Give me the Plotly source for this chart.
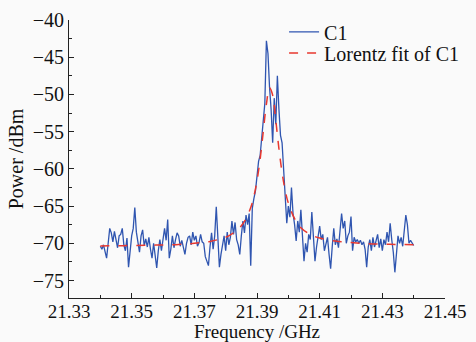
import plotly.graph_objects as go

# Measured spectrum C1, uniformly sampled from 21.340 GHz in 0.0005 GHz steps
c1_start = 21.340
c1_step = 0.0005
c1_power = [
    -70.4, -70.8, -70.2, -71.2, -72.0, -70.0, -68.0, -68.6, -69.8, -68.4,
    -69.5, -70.6, -69.0, -68.8, -68.0, -70.2, -71.0, -69.3, -73.2, -70.5,
    -69.0, -68.0, -65.2, -68.5, -70.0, -71.2, -69.0, -68.2, -70.3, -69.4,
    -70.5, -69.2, -70.8, -72.0, -70.0, -71.6, -73.3, -71.0, -69.5, -71.0,
    -69.4, -68.0, -69.6, -66.8, -72.0, -70.8, -69.0, -70.6, -69.5, -68.6,
    -69.0, -70.4, -69.6, -70.5, -71.5, -70.0, -69.2, -69.0, -70.2, -68.5,
    -69.6, -69.0, -70.4, -69.9, -68.8, -69.8, -70.0, -71.8, -72.4, -73.0,
    -70.5, -68.6, -70.8, -69.0, -65.1, -69.5, -73.2, -71.5, -70.0, -69.0,
    -71.0, -68.5, -70.2, -69.2, -67.0, -68.8, -67.2, -69.5, -70.2, -71.5,
    -69.0, -67.0, -68.6, -66.2, -67.5, -66.0, -73.0, -65.3, -64.0, -63.0,
    -61.0, -59.0, -58.2, -56.0, -53.4, -51.2, -42.8, -44.5, -49.0, -52.0,
    -56.5, -50.5, -54.0, -47.5, -52.0, -55.5, -56.5, -60.5, -64.8, -67.3,
    -65.0, -66.5, -62.5, -66.0, -67.5, -69.7, -67.0, -68.5, -65.5, -69.0,
    -72.4, -70.0, -71.2, -68.8, -69.5, -65.8, -69.0, -72.4, -70.5, -69.0,
    -67.7, -69.5, -68.8, -71.0, -70.0, -69.2, -71.5, -73.4, -70.5, -68.0,
    -70.2, -69.4, -70.6, -68.5, -66.0, -68.0, -67.0, -70.0, -69.0, -68.5,
    -66.4, -71.0, -69.2, -69.8, -69.5, -70.0, -69.6, -70.2, -69.8, -70.8,
    -73.2, -70.5, -69.5, -71.0, -69.2, -70.5, -69.8, -68.8, -70.6, -69.4,
    -71.0, -69.5, -70.2, -68.5, -69.8, -67.3, -69.5, -71.2, -73.9, -71.0,
    -69.0, -70.0, -69.2, -70.4, -68.5, -66.2, -67.5, -70.0, -69.6, -70.0,
    -70.3,
]

# Lorentz fit of C1
fit_freq = [
    21.340, 21.345, 21.350, 21.355, 21.360, 21.365, 21.370, 21.375, 21.378,
    21.381, 21.384, 21.386, 21.388, 21.389, 21.390, 21.391, 21.392, 21.393,
    21.394, 21.395, 21.396, 21.397, 21.398, 21.399, 21.400, 21.402, 21.404,
    21.407, 21.410, 21.415, 21.420, 21.425, 21.430, 21.435, 21.440,
]
fit_power = [
    -70.35, -70.33, -70.30, -70.27, -70.22, -70.15, -70.00, -69.75, -69.45,
    -69.00, -68.10, -67.05, -65.20, -63.70, -61.60, -58.70, -55.00, -51.30,
    -49.10, -50.10, -53.50, -57.30, -60.50, -62.90, -64.60, -66.70, -67.90,
    -68.80, -69.30, -69.70, -69.90, -70.05, -70.12, -70.16, -70.20,
]

x_tickvals = [21.33, 21.35, 21.37, 21.39, 21.41, 21.43, 21.45]
x_ticktext = ["21.33", "21.35", "21.37", "21.39", "21.41", "21.43", "21.45"]
y_tickvals = [-75, -70, -65, -60, -55, -50, -45, -40]
y_ticktext = ["\u221275", "\u221270", "\u221265", "\u221260", "\u221255", "\u221250", "\u221245", "\u221240"]

FONT = "Liberation Serif"
TXT = "#111111"

fig = go.Figure()
fig.add_trace(go.Scatter(
    x0=c1_start, dx=c1_step, y=c1_power, mode="lines", name="C1",
    line=dict(color="#2f55b0", width=1.3), legend="legend",
))
fig.add_trace(go.Scatter(
    x=fit_freq, y=fit_power, mode="lines", name="Lorentz fit of C1",
    line=dict(color="#e8382f", width=1.5, dash="dash", shape="spline"),
    legend="legend2",
))

leg_common = dict(
    xanchor="left", yanchor="middle",
    bgcolor="rgba(0,0,0,0)", borderwidth=0,
    font=dict(family=FONT, size=20, color=TXT),
    itemwidth=30,
)

fig.update_layout(
    width=476, height=342,
    margin=dict(l=69, r=28, t=16, b=44),
    paper_bgcolor="#fafafa", plot_bgcolor="#fafafa",
    font=dict(family=FONT, size=18, color=TXT),
    showlegend=True,
    legend=dict(x=0.572, y=0.957, **leg_common),
    legend2=dict(x=0.572, y=0.881, **leg_common),
)
fig.update_xaxes(
    range=[21.33, 21.45], showgrid=False, zeroline=False, automargin=False,
    showline=True, linecolor="#222222", linewidth=1,
    tickmode="array", tickvals=x_tickvals, ticktext=x_ticktext,
    ticks="inside", ticklen=5, tickcolor="#222222",
    ticklabelstandoff=-4,
    minor=dict(tickmode="array", tickvals=[21.34, 21.36, 21.38, 21.40, 21.42, 21.44],
               ticks="inside", ticklen=3, tickcolor="#222222"),
    title=dict(text="Frequency /GHz", standoff=1, font=dict(family=FONT, size=19, color=TXT)),
    tickfont=dict(family=FONT, size=19, color=TXT),
)
fig.update_yaxes(
    range=[-77.35, -40], showgrid=False, zeroline=False, automargin=False,
    showline=True, linecolor="#222222", linewidth=1,
    tickmode="array", tickvals=y_tickvals, ticktext=y_ticktext,
    ticks="inside", ticklen=5, tickcolor="#222222",
    minor=dict(tickmode="array", tickvals=[-72.5, -67.5, -62.5, -57.5, -52.5, -47.5, -42.5],
               ticks="inside", ticklen=3, tickcolor="#222222"),
    title=dict(text="Power /dBm", standoff=3, font=dict(family=FONT, size=20, color=TXT)),
    tickfont=dict(family=FONT, size=20, color=TXT),
)

fig.write_html(
    "out.html",
    config={"displayModeBar": False},
    post_script="document.body.style.margin='0';document.body.style.background='#fafafa';",
)
